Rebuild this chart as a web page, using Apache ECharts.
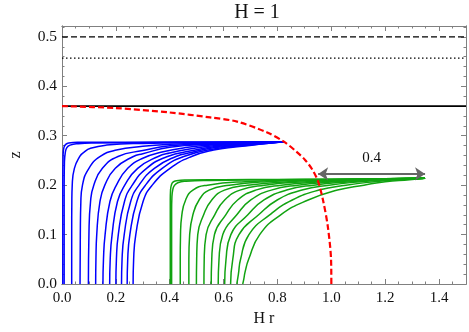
<!DOCTYPE html>
<html><head><meta charset="utf-8">
<script src="https://cdn.jsdelivr.net/npm/echarts@6/dist/echarts.min.js"></script>
<style>html,body{margin:0;padding:0;background:#fff}#c{width:469px;height:332px}</style>
</head><body><div id="c"></div>
<script>
const titleText = 'H = 1';
const xName = 'H r';
const yName = 'z';
const xRange = [0, 1.5];
const yRange = [0, 0.522];
const xMajor = 0.2, xMinor = 0.05;
const yMajor = 0.1, yMinor = 0.02;

// horizontal reference levels
const levelDashed = 0.5;
const levelDotted = 0.457;
const levelSolid = 0.36;

// blue family, each curve as [r, z] points
const blueCurves = [
  [[0.003,0],[0.003,0.2],[0.004,0.26],[0.007,0.276],[0.013,0.282],[0.025,0.2855],[0.06,0.2866],[0.3,0.287],[0.563,0.2875],[0.824,0.288]],
  [[0.008,0],[0.008,0.2],[0.009,0.245],[0.012,0.265],[0.018,0.276],[0.03,0.281],[0.06,0.284],[0.12,0.2855],[0.3,0.2862],[0.563,0.287],[0.824,0.288]],
  [[0.036,0],[0.036,0.1],[0.0365,0.167],[0.038,0.2],[0.046,0.234],[0.066,0.258],[0.08,0.266],[0.106,0.2745],[0.166,0.281],[0.3,0.2845],[0.563,0.2862],[0.824,0.288]],
  [[0.067,0],[0.068,0.1],[0.070,0.167],[0.076,0.2],[0.100,0.234],[0.142,0.258],[0.202,0.271],[0.3,0.2785],[0.4,0.2825],[0.563,0.285],[0.7,0.2865],[0.824,0.288]],
  [[0.098,0],[0.100,0.1],[0.106,0.167],[0.118,0.2],[0.150,0.234],[0.208,0.258],[0.3,0.270],[0.4,0.2795],[0.563,0.2838],[0.7,0.286],[0.824,0.288]],
  [[0.125,0],[0.126,0.05],[0.129,0.1],[0.141,0.167],[0.159,0.2],[0.198,0.234],[0.265,0.258],[0.3,0.2635],[0.4,0.2765],[0.563,0.283],[0.7,0.2855],[0.824,0.288]],
  [[0.152,0],[0.154,0.05],[0.160,0.1],[0.178,0.167],[0.202,0.2],[0.244,0.234],[0.300,0.2545],[0.371,0.267],[0.467,0.2765],[0.563,0.2815],[0.7,0.285],[0.824,0.288]],
  [[0.177,0],[0.179,0.05],[0.186,0.1],[0.206,0.167],[0.233,0.2],[0.281,0.234],[0.357,0.258],[0.4,0.265],[0.48,0.2735],[0.563,0.2795],[0.7,0.284],[0.824,0.288]],
  [[0.200,0],[0.202,0.05],[0.209,0.1],[0.232,0.167],[0.261,0.2],[0.314,0.234],[0.392,0.258],[0.48,0.2695],[0.563,0.2775],[0.7,0.283],[0.824,0.288]],
  [[0.221,0],[0.223,0.05],[0.231,0.1],[0.255,0.167],[0.286,0.2],[0.343,0.234],[0.423,0.258],[0.48,0.266],[0.563,0.2755],[0.7,0.282],[0.824,0.288]],
  [[0.242,0],[0.244,0.05],[0.252,0.1],[0.278,0.167],[0.310,0.2],[0.372,0.234],[0.452,0.258],[0.563,0.2732],[0.7,0.281],[0.824,0.288]],
  [[0.264,0],[0.266,0.05],[0.274,0.1],[0.301,0.167],[0.335,0.2],[0.401,0.234],[0.481,0.258],[0.563,0.271],[0.65,0.2775],[0.74,0.283],[0.824,0.288]]
];

// green family
const greenCurves = [
  [[0.402,0],[0.402,0.17],[0.403,0.19],[0.406,0.2],[0.412,0.206],[0.425,0.209],[0.46,0.2105],[0.6,0.211],[0.8,0.2115],[1.0,0.212],[1.2,0.213],[1.348,0.214]],
  [[0.407,0],[0.407,0.15],[0.408,0.175],[0.411,0.19],[0.417,0.199],[0.43,0.205],[0.46,0.208],[0.55,0.2095],[0.8,0.2108],[1.0,0.2117],[1.2,0.2128],[1.348,0.214]],
  [[0.439,0],[0.439,0.05],[0.440,0.1],[0.445,0.14],[0.459,0.17],[0.486,0.19],[0.54,0.2],[0.68,0.207],[0.95,0.211],[1.348,0.214]],
  [[0.471,0],[0.471,0.05],[0.474,0.1],[0.486,0.14],[0.509,0.17],[0.546,0.19],[0.621,0.2],[0.76,0.207],[1.0,0.211],[1.348,0.214]],
  [[0.499,0],[0.500,0.05],[0.504,0.1],[0.526,0.14],[0.556,0.17],[0.603,0.19],[0.689,0.2],[0.84,0.207],[1.05,0.211],[1.348,0.214]],
  [[0.527,0],[0.528,0.05],[0.535,0.1],[0.567,0.14],[0.604,0.17],[0.661,0.19],[0.752,0.2],[0.91,0.207],[1.09,0.211],[1.348,0.214]],
  [[0.554,0],[0.556,0.05],[0.566,0.1],[0.608,0.14],[0.652,0.17],[0.719,0.19],[0.814,0.2],[0.97,0.207],[1.13,0.211],[1.348,0.214]],
  [[0.580,0],[0.583,0.05],[0.597,0.1],[0.649,0.14],[0.701,0.17],[0.777,0.19],[0.875,0.2],[1.02,0.207],[1.16,0.211],[1.348,0.214]],
  [[0.604,0],[0.609,0.05],[0.627,0.1],[0.690,0.14],[0.750,0.17],[0.834,0.19],[0.934,0.2],[1.07,0.207],[1.19,0.211],[1.348,0.214]],
  [[0.626,0],[0.634,0.05],[0.657,0.1],[0.730,0.14],[0.799,0.17],[0.891,0.19],[0.991,0.2],[1.11,0.207],[1.22,0.211],[1.348,0.214]],
  [[0.649,0],[0.655,0.02],[0.663,0.05],[0.694,0.1],[0.771,0.14],[0.855,0.17],[0.954,0.19],[1.054,0.2],[1.16,0.207],[1.25,0.211],[1.348,0.214]],
  [[0.671,0],[0.675,0.01],[0.680,0.025],[0.693,0.05],[0.734,0.1],[0.812,0.14],[0.914,0.17],[1.023,0.19],[1.121,0.2],[1.20,0.207],[1.29,0.211],[1.348,0.214]]
];

// red dashed boundary
const redX = [0, 0.2, 0.4, 0.55, 0.65, 0.76, 0.824, 0.87, 0.9025, 0.93, 0.9505, 0.969, 0.987, 0.999, 1.0];
const redZ = [0.360, 0.356, 0.347, 0.337, 0.3286, 0.307, 0.288, 0.268, 0.251, 0.231, 0.208, 0.170, 0.116, 0.049, 0];

// arrow annotation
const arrowFrom = [0.951, 0.2227];
const arrowTo = [1.348, 0.2227];
const arrowText = '0.4';

const FONT = 'Liberation Serif';
const AX = '#808080';

function isMult(v, step) { const r = v / step; return Math.abs(r - Math.round(r)) < 1e-6; }

function xAxisDef(position, interval, tickLen, labels) {
  return {
    type: 'value', position, min: xRange[0], max: xRange[1], interval,
    axisLine: { show: true, onZero: false, lineStyle: { color: AX, width: 1 } },
    axisTick: { show: true, inside: true, length: tickLen, lineStyle: { color: AX, width: 1 } },
    axisLabel: labels ? {
      show: true, margin: 7, color: '#111', fontFamily: FONT, fontSize: 15,
      formatter: v => isMult(v, xMajor) ? v.toFixed(1) : ''
    } : { show: false },
    splitLine: { show: false },
    name: labels ? xName : '', nameLocation: 'middle', nameGap: 27,
    nameTextStyle: { fontFamily: FONT, fontSize: 16, color: '#111' }
  };
}
function yAxisDef(position, interval, tickLen, labels) {
  return {
    type: 'value', position, min: yRange[0], max: yRange[1], interval,
    axisLine: { show: true, onZero: false, lineStyle: { color: AX, width: 1 } },
    axisTick: { show: true, inside: true, length: tickLen, lineStyle: { color: AX, width: 1 } },
    axisLabel: labels ? {
      show: true, margin: 5, color: '#111', fontFamily: FONT, fontSize: 15.5,
      formatter: v => isMult(v, yMajor) ? v.toFixed(1) : ''
    } : { show: false },
    splitLine: { show: false },
    name: labels ? yName : '', nameLocation: 'middle', nameGap: 38, nameRotate: 90,
    nameTextStyle: { fontFamily: FONT, fontSize: 16, color: '#111' }
  };
}

const series = [];
function hline(level, type, width) {
  series.push({
    type: 'line', data: [[xRange[0], level], [xRange[1], level]], symbol: 'none', silent: true,
    lineStyle: { color: '#000', width, type }, z: 3
  });
}
hline(levelDashed, [6, 3], 1.3);
hline(levelDotted, [1.5, 2.5], 1.3);
hline(levelSolid, 'solid', 1.8);

blueCurves.forEach(pts => series.push({
  type: 'line', data: pts, symbol: 'none', smooth: 0.5, silent: true,
  lineStyle: { color: '#0000ff', width: 1.5 }, z: 2
}));
greenCurves.forEach(pts => series.push({
  type: 'line', data: pts, symbol: 'none', smooth: 0.5, silent: true,
  lineStyle: { color: '#11a311', width: 1.5 }, z: 2
}));
series.push({
  type: 'line', data: redX.map((x, i) => [x, redZ[i]]), symbol: 'none', smooth: 0.3, silent: true,
  lineStyle: { color: '#ff0000', width: 2.2, type: [6, 3] }, z: 4
});
series.push({
  type: 'line', data: [], silent: true,
  markLine: {
    silent: true, symbol: ['arrow', 'arrow'], symbolSize: 10, precision: 3,
    lineStyle: { color: '#666', width: 2, type: 'solid' },
    label: { show: true, position: 'middle', formatter: arrowText, distance: 8,
      fontFamily: FONT, fontSize: 15, color: '#111' },
    data: [[{ coord: arrowFrom }, { coord: arrowTo }]]
  }, z: 5
});

const chart = echarts.init(document.getElementById('c'), null, { renderer: 'canvas' });
chart.setOption({
  animation: false,
  backgroundColor: '#fff',
  grid: { left: 50, right: 3, top: 26, bottom: 48, containLabel: false },
  graphic: [{
    type: 'text', x: 257, y: 13,
    style: { text: titleText, align: 'center', verticalAlign: 'middle', textAlign: 'center', textVerticalAlign: 'middle',
      font: '20px "Liberation Serif"', fill: '#111' }
  }],
  xAxis: [
    xAxisDef('bottom', xMajor, 5, true),
    xAxisDef('bottom', xMinor, 2.5, false),
    xAxisDef('top', xMajor, 5, false),
    xAxisDef('top', xMinor, 2.5, false)
  ],
  yAxis: [
    yAxisDef('left', yMajor, 5, true),
    yAxisDef('left', yMinor, 2.5, false),
    yAxisDef('right', yMajor, 5, false),
    yAxisDef('right', yMinor, 2.5, false)
  ],
  series
});
</script></body></html>
